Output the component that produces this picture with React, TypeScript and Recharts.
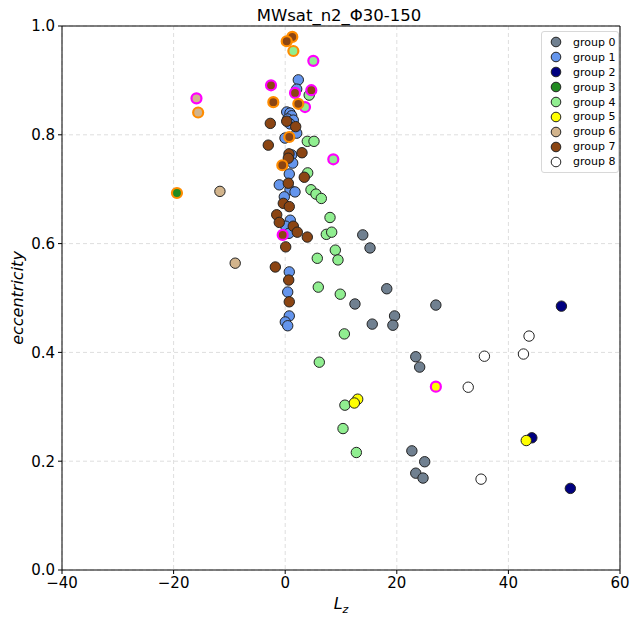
import { ScatterChart, Scatter, XAxis, YAxis, CartesianGrid, ReferenceLine } from "recharts";

type Pt = { x: number; y: number; ring?: "m" | "o" };

const X_TICKS = [-40, -20, 0, 20, 40, 60];
const Y_TICKS = [0, 0.2, 0.4, 0.6, 0.8, 1.0];
const GROUP_NAMES = ["group 0", "group 1", "group 2", "group 3", "group 4", "group 5", "group 6", "group 7", "group 8"];

const group0: Pt[] = [
  { x: 13.9, y: 0.616 }, { x: 15.2, y: 0.592 }, { x: 18.2, y: 0.517 }, { x: 12.5, y: 0.489 },
  { x: 19.6, y: 0.467 }, { x: 15.6, y: 0.452 }, { x: 19.3, y: 0.45 }, { x: 27.0, y: 0.487 },
  { x: 23.4, y: 0.392 }, { x: 24.1, y: 0.373 }, { x: 22.7, y: 0.219 }, { x: 25.0, y: 0.199 },
  { x: 23.4, y: 0.178 }, { x: 24.7, y: 0.169 },
];
const group1: Pt[] = [
  { x: 2.35, y: 0.901 }, { x: 2.06, y: 0.884 }, { x: 0.27, y: 0.842 }, { x: 0.86, y: 0.84 },
  { x: 1.16, y: 0.835 }, { x: 0.45, y: 0.829 }, { x: 1.45, y: 0.827 }, { x: 0.86, y: 0.82 },
  { x: 2.06, y: 0.803 }, { x: -0.04, y: 0.794 }, { x: 1.16, y: 0.763 }, { x: 1.34, y: 0.748 },
  { x: 0.73, y: 0.728 }, { x: -1.06, y: 0.708 }, { x: 0.86, y: 0.699 }, { x: 1.76, y: 0.695 },
  { x: -0.16, y: 0.686 }, { x: 0.91, y: 0.643 }, { x: 0.09, y: 0.632 }, { x: 0.68, y: 0.619 },
  { x: 0.73, y: 0.548 }, { x: 0.45, y: 0.511 }, { x: 0.73, y: 0.467 }, { x: 0.02, y: 0.456 },
  { x: 0.45, y: 0.449 },
];
const group2: Pt[] = [
  { x: 49.5, y: 0.485 }, { x: 44.2, y: 0.243 }, { x: 51.1, y: 0.15 },
];
const group3: Pt[] = [
  { x: -19.4, y: 0.693, ring: "o" },
];
const group4: Pt[] = [
  { x: 1.46, y: 0.954, ring: "o" }, { x: 5.04, y: 0.936, ring: "m" }, { x: 4.3, y: 0.873 },
  { x: 3.55, y: 0.851, ring: "m" }, { x: 3.96, y: 0.788 }, { x: 5.16, y: 0.788 },
  { x: 8.62, y: 0.755, ring: "m" }, { x: 4.03, y: 0.73 }, { x: 4.62, y: 0.699 }, { x: 5.52, y: 0.691 },
  { x: 6.47, y: 0.683 }, { x: 8.03, y: 0.648 }, { x: 7.37, y: 0.617 }, { x: 8.33, y: 0.621 },
  { x: 8.98, y: 0.588 }, { x: 9.46, y: 0.57 }, { x: 5.75, y: 0.573 }, { x: 5.93, y: 0.52 },
  { x: 9.87, y: 0.507 }, { x: 10.6, y: 0.434 }, { x: 6.11, y: 0.382 }, { x: 10.7, y: 0.303 },
  { x: 10.36, y: 0.26 }, { x: 12.75, y: 0.216 },
];
const group5: Pt[] = [
  { x: 12.99, y: 0.314 }, { x: 12.39, y: 0.307 }, { x: 27.0, y: 0.337, ring: "m" }, { x: 43.2, y: 0.238 },
];
const group6: Pt[] = [
  { x: -15.9, y: 0.867, ring: "m" }, { x: -15.6, y: 0.841, ring: "o" }, { x: -11.7, y: 0.696 }, { x: -8.96, y: 0.564 },
];
const group7: Pt[] = [
  { x: 1.27, y: 0.98, ring: "o" }, { x: 0.27, y: 0.972, ring: "o" }, { x: -2.54, y: 0.891, ring: "m" },
  { x: 4.68, y: 0.882, ring: "m" }, { x: 1.76, y: 0.877, ring: "m" }, { x: -2.13, y: 0.86, ring: "o" },
  { x: 2.35, y: 0.857, ring: "o" }, { x: -2.67, y: 0.821 }, { x: 0.27, y: 0.825 }, { x: 1.88, y: 0.815 },
  { x: 0.73, y: 0.796, ring: "o" }, { x: -3.03, y: 0.781 }, { x: 0.68, y: 0.765 }, { x: 3.01, y: 0.767 },
  { x: 0.56, y: 0.757 }, { x: -0.52, y: 0.744, ring: "o" }, { x: 3.42, y: 0.722 }, { x: 0.56, y: 0.711 },
  { x: -0.34, y: 0.674 }, { x: 0.73, y: 0.668 }, { x: -1.52, y: 0.653 }, { x: -1.06, y: 0.639 },
  { x: 1.45, y: 0.632 }, { x: 2.17, y: 0.621 }, { x: -0.45, y: 0.616, ring: "m" }, { x: 3.96, y: 0.612 },
  { x: 0.09, y: 0.594 }, { x: -1.77, y: 0.557 }, { x: 0.63, y: 0.533 }, { x: 0.73, y: 0.493 },
];
const group8: Pt[] = [
  { x: 43.7, y: 0.43 }, { x: 42.7, y: 0.397 }, { x: 35.7, y: 0.393 }, { x: 32.8, y: 0.336 }, { x: 35.1, y: 0.167 },
];

const GROUPS = [group0, group1, group2, group3, group4, group5, group6, group7, group8];
const COLORS = ["#708090", "#6495ED", "#000080", "#228B22", "#90EE90", "#FFFF00", "#D2B48C", "#8B4513", "#FFFFFF"];
const RING = { m: "#FF00FF", o: "#FF8C00" };
const FONT = "DejaVu Sans, sans-serif";

const makeShape = (fill: string) => (props: any) => {
  const { cx, cy, payload } = props;
  const ring = payload?.ring as "m" | "o" | undefined;
  if (ring) {
    return <circle cx={cx} cy={cy} r={5} fill={fill} stroke={RING[ring]} strokeWidth={2.2} />;
  }
  return <circle cx={cx} cy={cy} r={5.2} fill={fill} stroke="#222" strokeWidth={1} />;
};

export default function App() {
  return (
    <div style={{ position: "absolute", left: 0, top: 0, width: 636, height: 621, background: "#fff", fontFamily: FONT }}>
      <ScatterChart width={636} height={621} margin={{ top: 26, right: 16, bottom: 0, left: 0 }}>
        <CartesianGrid strokeDasharray="4 3" stroke="#dedede" />
        <XAxis
          type="number"
          dataKey="x"
          domain={[-40, 60]}
          ticks={X_TICKS}
          height={51}
          stroke="#000"
          tickSize={4}
          tickMargin={3}
          tickFormatter={(v: number) => String(v).replace("-", "\u2212")}
          tick={{ fill: "#000", fontSize: 15, fontFamily: FONT }}
          allowDataOverflow
        />
        <YAxis
          type="number"
          dataKey="y"
          domain={[0, 1]}
          ticks={Y_TICKS}
          width={62}
          stroke="#000"
          tickSize={4}
          tickMargin={3}
          tickFormatter={(v: number) => v.toFixed(1)}
          tick={{ fill: "#000", fontSize: 15, fontFamily: FONT }}
          allowDataOverflow
        />
        <ReferenceLine y={1} stroke="#000" strokeWidth={1} />
        <ReferenceLine x={60} stroke="#000" strokeWidth={1} />
        {GROUPS.map((g, i) => (
          <Scatter
            key={GROUP_NAMES[i]}
            name={GROUP_NAMES[i]}
            data={g}
            fill={COLORS[i]}
            shape={makeShape(COLORS[i])}
            isAnimationActive={false}
          />
        ))}
      </ScatterChart>
      <div style={{ position: "absolute", left: 0, width: 636, top: 6, textAlign: "center", fontSize: 16.5, paddingLeft: 42, boxSizing: "border-box" }}>
        MWsat_n2_Φ30-150
      </div>
      <div style={{ position: "absolute", left: 0, width: 636, top: 594, textAlign: "center", fontSize: 16, paddingLeft: 46, boxSizing: "border-box", fontStyle: "italic" }}>
        L<sub style={{ fontSize: 11 }}>z</sub>
      </div>
      <div
        style={{
          position: "absolute", left: 17, top: 298, fontSize: 16, fontStyle: "italic",
          transform: "translate(-50%, -50%) rotate(-90deg)", whiteSpace: "nowrap",
        }}
      >
        eccentricity
      </div>
      <div
        style={{
          position: "absolute", left: 541, top: 31, width: 78, padding: "3px 0 3px 0",
          border: "1px solid #d8d8d8", borderRadius: 3, background: "rgba(255,255,255,0.85)", boxSizing: "border-box",
        }}
      >
        {GROUP_NAMES.map((n, i) => (
          <div key={n} style={{ display: "flex", alignItems: "center", height: 14.9, fontSize: 11 }}>
            <svg width={31} height={14} style={{ flex: "none" }}>
              <circle cx={14} cy={7} r={4.8} fill={COLORS[i]} stroke="#222" strokeWidth={1} />
            </svg>
            <span>{n}</span>
          </div>
        ))}
      </div>
    </div>
  );
}
